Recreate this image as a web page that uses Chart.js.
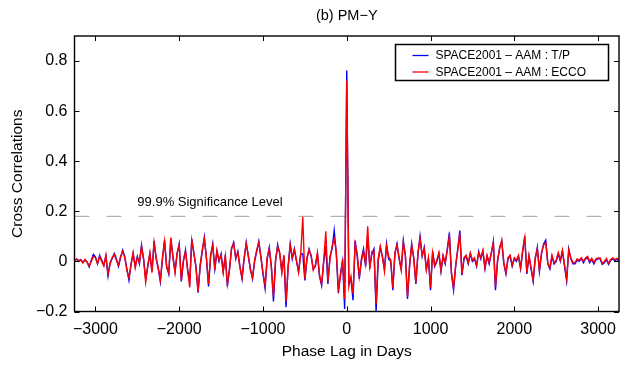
<!DOCTYPE html>
<html>
<head>
<meta charset="utf-8">
<script src="https://cdn.jsdelivr.net/npm/chart.js@4.4.1/dist/chart.umd.min.js"></script>
<style>
  html, body { margin: 0; padding: 0; background: #fff; }
  canvas { display: block; }
</style>
</head>
<body>
<canvas id="cc" width="624" height="368"></canvas>
<script>
// lag axis: -3250 .. 3250 days, every 25 days
const lagStart = -3250, lagStep = 25, lagCount = 261;
const lags = Array.from({ length: lagCount }, (_, i) => lagStart + lagStep * i);

// SPACE2001 - AAM : T/P
const tpCorr = [
  0.004, 0.008, 0.003, 0.007, -0.003, 0.005, -0.002, -0.022, 0.004, 0.028,
  0.018, -0.01, 0.025, 0.005, -0.015, 0.02, -0.058, -0.005, 0.012, 0.032,
  0.01, -0.02, 0.015, 0.045, 0.02, -0.03, -0.075, -0.01, 0.03, -0.02,
  0.02, -0.01, 0.065, 0.01, -0.07, -0.02, 0.03, -0.04, 0.082, 0.01,
  -0.03, -0.082, 0.01, 0.085, -0.02, -0.05, 0.09, 0.02, -0.04, 0.03,
  0.07, -0.08, 0.0, 0.045, -0.03, -0.08, 0.09, 0.03, -0.02, -0.125,
  -0.02, 0.04, 0.097, 0.01, -0.10, 0.02, 0.07, -0.03, 0.04, 0.0,
  0.03, -0.04, 0.02, -0.10, -0.03, 0.05, 0.076, 0.01, 0.04, -0.02,
  -0.07, 0.01, 0.076, 0.02, -0.03, -0.07, 0.0, 0.04, 0.08, 0.02,
  -0.05, -0.108, 0.01, 0.056, -0.02, -0.16, 0.0, 0.067, 0.03, -0.04,
  0.02, -0.183, -0.02, 0.07, 0.01, 0.05, 0.0, -0.04, 0.03, 0.03,
  -0.076, 0.01, 0.05, 0.02, -0.03, -0.02, 0.03, -0.06, -0.096, 0.0,
  0.06, -0.09, 0.02, 0.05, 0.123, 0.03, -0.126, -0.05, 0.0, -0.19,
  0.762,
  -0.09, -0.07, -0.155, 0.083, 0.02, -0.07, 0.01, 0.05, -0.02, 0.10,
  -0.02, 0.03, 0.05, -0.20, 0.0, 0.056, 0.02, -0.03, 0.07, 0.01,
  0.0, -0.115, 0.03, 0.07, 0.01, -0.03, 0.083, 0.02, -0.15, -0.02,
  0.07, 0.01, -0.09, 0.03, 0.10, 0.02, 0.056, -0.03, 0.01, -0.115,
  0.04, -0.02, 0.0, 0.03, -0.04, 0.02, -0.01, 0.05, 0.115, -0.05,
  -0.115, -0.02, 0.05, 0.123, -0.055, 0.01, 0.02, -0.01, 0.03, 0.0,
  0.01, -0.02, 0.04, 0.01, 0.04, -0.03, 0.02, -0.01, 0.03, 0.08,
  -0.115, 0.0, 0.056, 0.08, -0.01, -0.05, 0.01, 0.02, -0.02, 0.01,
  0.0, 0.02, -0.03, 0.04, 0.10, -0.05, 0.02, -0.03, -0.08, 0.01,
  0.056, -0.04, 0.03, 0.07, 0.085, -0.01, -0.03, 0.02, -0.01, 0.0,
  0.03, 0.0, 0.04, -0.02, -0.078, 0.05, 0.01, -0.01, -0.01, 0.005,
  0.0, 0.012, -0.005, 0.01, 0.015, -0.005, 0.008, -0.01, 0.006, 0.01,
  0.01, -0.012, -0.005, 0.008, -0.012, 0.004, 0.01, 0.003, 0.008, 0.002
];

// SPACE2001 - AAM : ECCO
const eccoCorr = [
  0.006, 0.01, 0.0, 0.005, -0.006, 0.008, -0.004, -0.018, 0.0, 0.02,
  0.015, -0.008, 0.02, 0.0, -0.018, 0.025, -0.05, -0.01, 0.015, 0.028,
  0.005, -0.015, 0.02, 0.04, 0.015, -0.035, -0.065, -0.015, 0.035, -0.025,
  0.015, -0.005, 0.06, 0.005, -0.083, -0.015, 0.035, -0.045, 0.075, 0.015,
  -0.025, -0.075, 0.015, 0.08, -0.025, -0.045, 0.095, 0.015, -0.045, 0.035,
  0.065, -0.075, 0.005, 0.04, -0.035, -0.104, 0.085, 0.035, -0.025, -0.12,
  -0.015, 0.045, 0.09, 0.015, -0.09, 0.025, 0.065, -0.035, 0.045, 0.005,
  0.025, -0.045, 0.025, -0.09, -0.035, 0.055, 0.07, 0.015, 0.035, -0.025,
  -0.065, 0.015, 0.07, 0.025, -0.035, -0.065, 0.005, 0.045, 0.075, 0.015,
  -0.045, -0.095, 0.015, 0.05, -0.025, -0.14, 0.005, 0.06, 0.035, -0.045,
  0.025, -0.16, -0.025, 0.065, 0.015, 0.045, 0.005, -0.045, 0.025, 0.178,
  -0.07, 0.015, 0.045, 0.025, -0.035, -0.015, 0.035, -0.055, -0.09, 0.005,
  0.12, -0.08, 0.01, 0.06, 0.09, 0.04, -0.11, -0.06, 0.01, -0.15,
  0.722,
  -0.10, -0.06, -0.13, 0.07, 0.03, -0.06, 0.0, 0.04, -0.01, 0.14,
  -0.03, 0.04, 0.04, -0.17, 0.01, 0.06, 0.02, -0.04, 0.06, 0.02,
  0.005, -0.105, 0.035, 0.065, 0.015, -0.035, 0.075, 0.025, -0.14, -0.015,
  0.065, 0.015, -0.085, 0.035, 0.09, 0.025, 0.05, -0.035, 0.015, -0.105,
  0.035, -0.015, 0.005, 0.035, -0.035, 0.025, -0.005, 0.045, 0.1, -0.045,
  -0.105, -0.015, 0.045, 0.11, -0.05, 0.015, 0.025, -0.005, 0.035, 0.005,
  0.015, -0.015, 0.035, 0.015, 0.045, -0.025, 0.025, -0.005, 0.035, 0.075,
  -0.1, 0.005, 0.05, 0.085, -0.005, -0.045, 0.015, 0.025, -0.015, 0.015,
  0.005, 0.025, -0.025, 0.045, 0.095, -0.045, 0.025, -0.025, -0.075, 0.015,
  0.05, -0.035, 0.035, 0.065, 0.075, -0.005, -0.025, 0.025, -0.005, 0.005,
  0.035, 0.005, 0.045, -0.015, -0.07, 0.045, 0.015, -0.005, -0.005, 0.01,
  0.005, 0.015, 0.0, 0.014, 0.02, 0.0, 0.012, -0.005, 0.01, 0.014,
  0.014, -0.008, 0.0, 0.012, -0.008, 0.008, 0.014, 0.007, 0.012, 0.006
];

const sigLevel = 0.18;
const seriesNames = ['SPACE2001 \u2013 AAM : T/P', 'SPACE2001 \u2013 AAM : ECCO'];
const seriesColors = ['#0000ff', '#ff0000'];
const xTicks = [-3000, -2000, -1000, 0, 1000, 2000, 3000];
const yTicks = [-0.2, 0, 0.2, 0.4, 0.6, 0.8];

const FONT = '"Liberation Sans", Arial, Helvetica, sans-serif';
const minus = s => String(s).replace('-', '\u2212');

// box, inward ticks, legend and text in matlab style
const matlabBox = {
  id: 'matlabBox',
  afterDraw(chart) {
    const { ctx, chartArea: a, scales } = chart;
    const x = scales.x, y = scales.y;
    ctx.save();
    ctx.strokeStyle = '#000';
    ctx.lineWidth = 1;
    ctx.beginPath();
    xTicks.forEach(v => {
      const px = Math.round(x.getPixelForValue(v)) + 0.5;
      ctx.moveTo(px, a.bottom); ctx.lineTo(px, a.bottom - 5);
      ctx.moveTo(px, a.top); ctx.lineTo(px, a.top + 5);
    });
    yTicks.forEach(v => {
      const py = Math.round(y.getPixelForValue(v)) + 0.5;
      ctx.moveTo(a.left, py); ctx.lineTo(a.left + 5, py);
      ctx.moveTo(a.right, py); ctx.lineTo(a.right - 5, py);
    });
    ctx.stroke();
    ctx.lineWidth = 1.4;
    ctx.strokeRect(a.left, a.top, a.right - a.left, a.bottom - a.top);

    // significance label
    ctx.fillStyle = '#000';
    ctx.font = '13px ' + FONT;
    ctx.textAlign = 'left';
    ctx.textBaseline = 'middle';
    ctx.fillText('99.9% Significance Level', x.getPixelForValue(-2500), y.getPixelForValue(sigLevel) - 14);

    // title
    ctx.font = '14.5px ' + FONT;
    ctx.textAlign = 'center';
    ctx.fillText('(b) PM\u2212Y', (a.left + a.right) / 2, 16);

    // legend
    const lx = 395.5, ly = 44.5, lw = 213, lh = 36;
    ctx.fillStyle = '#fff';
    ctx.fillRect(lx, ly, lw, lh);
    ctx.lineWidth = 1.5;
    ctx.strokeRect(lx, ly, lw, lh);
    ctx.font = '12px ' + FONT;
    ctx.textAlign = 'left';
    seriesNames.forEach((name, i) => {
      const yy = ly + 11 + i * 16.5;
      ctx.strokeStyle = seriesColors[i];
      ctx.lineWidth = 1.3;
      ctx.beginPath();
      ctx.moveTo(lx + 17, yy); ctx.lineTo(lx + 33, yy);
      ctx.stroke();
      ctx.fillStyle = '#000';
      ctx.fillText(name, lx + 40, yy + 0.5);
    });
    ctx.restore();
  }
};

new Chart(document.getElementById('cc').getContext('2d'), {
  type: 'line',
  data: {
    labels: lags,
    datasets: [
      {
        label: seriesNames[0],
        data: tpCorr,
        borderColor: seriesColors[0],
        borderWidth: 1.4,
        pointRadius: 0,
        tension: 0,
        order: 2
      },
      {
        label: seriesNames[1],
        data: eccoCorr,
        borderColor: seriesColors[1],
        borderWidth: 1.4,
        pointRadius: 0,
        tension: 0,
        order: 1
      },
      {
        label: 'sig',
        data: [{ x: lagStart, y: sigLevel }, { x: -lagStart, y: sigLevel }],
        borderColor: '#a0a0a0',
        borderWidth: 1,
        borderDash: [15, 17],
        pointRadius: 0,
        order: 3
      }
    ]
  },
  options: {
    responsive: false,
    animation: false,
    devicePixelRatio: 1,
    layout: { padding: { top: 36, right: 3.5, left: 0, bottom: 0 } },
    plugins: { legend: { display: false }, tooltip: { enabled: false } },
    scales: {
      x: {
        type: 'linear',
        min: -3250,
        max: 3250,
        afterBuildTicks: s => { s.ticks = xTicks.map(v => ({ value: v })); },
        afterFit: s => { s.height = 56.5; },
        grid: { display: false, drawTicks: false },
        border: { display: false },
        ticks: {
          padding: 8,
          color: '#000',
          font: { family: FONT, size: 16 },
          callback: v => minus(v)
        },
        title: {
          display: true,
          text: 'Phase Lag in Days',
          color: '#000',
          font: { family: FONT, size: 15.5 },
          padding: { bottom: 7, top: 0 }
        }
      },
      y: {
        min: -0.2,
        max: 0.9,
        afterBuildTicks: s => { s.ticks = yTicks.map(v => ({ value: v })); },
        afterFit: s => { s.width = 74.5; },
        grid: { display: false, drawTicks: false },
        border: { display: false },
        ticks: {
          padding: 7,
          color: '#000',
          font: { family: FONT, size: 16 },
          callback: v => minus(Math.abs(v) < 1e-9 ? 0 : +v.toFixed(1))
        },
        title: {
          display: true,
          text: 'Cross Correlations',
          color: '#000',
          font: { family: FONT, size: 15.5 },
          padding: { top: 8, bottom: 0 }
        }
      }
    }
  },
  plugins: [matlabBox]
});
</script>
</body>
</html>
